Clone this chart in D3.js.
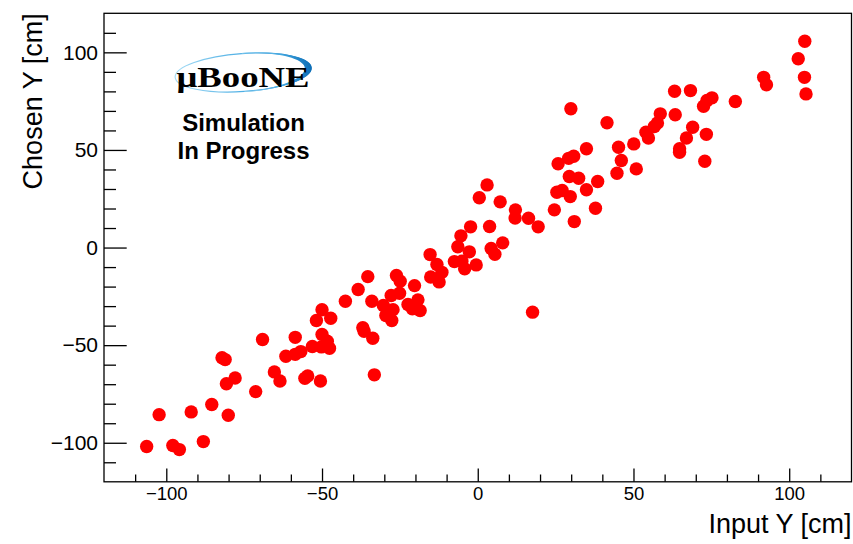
<!DOCTYPE html>
<html lang="en">
<head>
    <meta charset="UTF-8">
    <title>Chosen Y vs Input Y</title>
    <script src="https://cdn.jsdelivr.net/npm/d3@7"></script>
    <style>
        body { margin: 0; background: #fff; }
        text { font-family: "Liberation Sans", Arial, Helvetica, sans-serif; }
    </style>
</head>
<body>
<svg id="main" width="853" height="544"></svg>
<script>
    // values (cm)
    let inputY = [
        -106.3, -97.9, -95.8, -88.1, -102.3, -92.0, -85.4, -80.1, -82.1, -81.1,
        -77.9, -80.7, -71.3, -69.1, -65.3, -63.5, -61.6, -58.6, -58.6, -56.8,
        -55.5, -54.6, -50.5, -53.1, -50.0, -50.2, -48.3, -47.6, -51.8, -50.0,
        -47.2, -42.5, -38.4, -35.3, -36.9, -36.5, -33.7, -33.2, -34.0, -30.3,
        -29.5, -27.8, -27.2, -27.6, -26.1, -24.9, -25.1, -22.4, -20.6, -19.2,
        -18.5, -20.3, -21.0, -15.3, -13.1, -15.1, -12.4, -11.5, -7.5, -5.1,
        -4.2, -0.5, -6.4, -5.4, -2.7, -2.3, 0.5, 3.0, 3.8, 4.3,
        5.5, 7.2, 8.0, 12.1, 12.0, 16.3, 19.4, 25.4, 24.6, 17.6,
        29.9, 41.5, 34.9, 30.8, 29.2, 25.8, 29.4, 32.4, 38.5, 34.9,
        27.1, 29.7, 37.8, 31.0, 50.1, 45.2, 46.1, 44.7, 50.9, 54.0,
        54.8, 56.7, 57.7, 58.6, 63.4, 63.2, 68.3, 69.0, 67.0, 64.8,
        64.8, 73.4, 72.9, 72.5, 73.6, 75.2, 82.7, 91.8, 92.7, 105.0,
        102.9, 104.9, 105.4
    ];
    let chosenY = [
        -101.9, -101.4, -103.5, -99.4, -85.6, -84.2, -80.4, -85.9, -56.4, -57.4,
        -66.8, -69.8, -73.8, -47.1, -63.7, -68.4, -55.7, -46.0, -54.7, -53.3,
        -67.0, -65.8, -68.4, -50.7, -44.5, -50.9, -48.0, -51.6, -37.4, -31.9,
        -36.2, -27.5, -21.5, -14.9, -41.1, -42.9, -46.5, -65.2, -27.5, -29.7,
        -34.8, -24.6, -31.8, -37.4, -14.3, -17.3, -23.4, -29.2, -30.1, -26.8,
        -32.3, -19.5, -31.4, -3.6, -8.7, -15.1, -17.6, -12.7, -7.2, -7.0,
        -10.9, -8.9, 0.4, 6.0, -2.2, 10.6, 25.5, 32.1, 10.8, -0.5,
        -3.4, 23.4, 2.4, 19.3, 15.1, 15.0, 10.6, 28.3, 19.3, -33.1,
        71.1, 63.9, 50.6, 46.8, 45.7, 42.9, 36.4, 35.5, 33.8, 29.6,
        29.2, 26.1, 20.1, 13.3, 53.1, 51.4, 44.6, 38.1, 40.3, 59.1,
        56.1, 62.0, 63.8, 68.5, 68.0, 80.1, 80.4, 61.6, 56.1, 50.6,
        48.8, 58.0, 44.2, 72.4, 75.3, 76.7, 74.8, 87.2, 83.4, 105.7,
        96.7, 87.2, 78.7
    ];
    let majorTicks = [-100, -50, 0, 50, 100];
    let minorTicks = [-110, -90, -80, -70, -60, -40, -30, -20, -10, 10, 20, 30, 40, 60, 70, 80, 90, 110];

    let svg = d3.select('svg#main');
    let padLeft = 104, padRight = 851.5, padTop = 13.3, padBottom = 481.8;

    let x = d3.scaleLinear().domain([-120, 120]).range([padLeft, padRight]);
    let y = d3.scaleLinear().domain([-120, 120]).range([padBottom, padTop]);

    let data = inputY.map(function(d, i) { return {x: d, y: chosenY[i]}; });

    // points
    svg.append("g").selectAll("circle")
        .data(data)
        .enter().append("circle")
        .attr("cx", function(d) { return x(d.x); })
        .attr("cy", function(d) { return y(d.y); })
        .attr("r", 6.7)
        .attr("fill", "#ff0000");

    // frame
    svg.append("rect")
        .attr("x", padLeft).attr("y", padTop)
        .attr("width", padRight - padLeft).attr("height", padBottom - padTop)
        .attr("fill", "none")
        .attr("stroke", "#000")
        .attr("stroke-width", 1.3);

    function styleAxis(g, size) {
        g.select(".domain").remove();
        g.selectAll("line").attr("stroke", "#000").attr("stroke-width", 1.3);
        g.selectAll("text")
            .attr("fill", "#000")
            .style("font-family", '"Liberation Sans", Arial, sans-serif')
            .style("font-size", size + "px");
    }

    // x axis
    svg.append("g")
        .attr("transform", "translate(0," + padBottom + ")")
        .call(d3.axisBottom(x).tickValues(minorTicks).tickSize(-7.3).tickFormat(""))
        .call(function(g) { styleAxis(g, 18.5); });
    svg.append("g")
        .attr("transform", "translate(0," + padBottom + ")")
        .call(d3.axisBottom(x).tickValues(majorTicks).tickSize(-13.3).tickPadding(5).tickFormat(d3.format("d")))
        .call(function(g) { styleAxis(g, 18.5); });

    // y axis
    svg.append("g")
        .attr("transform", "translate(" + padLeft + ",0)")
        .call(d3.axisLeft(y).tickValues(minorTicks).tickSize(-12).tickFormat(""))
        .call(function(g) { styleAxis(g, 21); });
    svg.append("g")
        .attr("transform", "translate(" + padLeft + ",0)")
        .call(d3.axisLeft(y).tickValues(majorTicks).tickSize(-22.7).tickPadding(6).tickFormat(d3.format("d")))
        .call(function(g) { styleAxis(g, 21); });

    // axis titles
    svg.append("text")
        .attr("x", padRight).attr("y", 533)
        .attr("text-anchor", "end")
        .style("font-size", "27px")
        .text("Input Y [cm]");
    svg.append("text")
        .attr("transform", "translate(42," + padTop + ") rotate(-90)")
        .attr("text-anchor", "end")
        .style("font-size", "27px")
        .text("Chosen Y [cm]");

    // logo
    let defs = svg.append("defs");
    let grad = defs.append("linearGradient").attr("id", "swoosh")
        .attr("x1", "0%").attr("x2", "100%");
    grad.append("stop").attr("offset", "0%").attr("stop-color", "#a6dcf5");
    grad.append("stop").attr("offset", "55%").attr("stop-color", "#43a9e2");
    grad.append("stop").attr("offset", "100%").attr("stop-color", "#0b6db6");

    let logo = svg.append("g").attr("transform", "translate(243,72.5) rotate(-4)");
    logo.append("ellipse")
        .attr("rx", 68).attr("ry", 19)
        .attr("fill", "none")
        .attr("stroke", "url(#swoosh)")
        .attr("stroke-width", 1.2);
    // thicker crescent on the right side: band between two ellipses
    let outer = d3.range(-90, 91, 5).map(function(a) {
        let t = a * Math.PI / 180;
        return [69 * Math.cos(t), 19.6 * Math.sin(t)];
    });
    let inner = d3.range(90, -91, -5).map(function(a) {
        let t = a * Math.PI / 180;
        let w = Math.pow(Math.cos(t), 2);
        return [(68 - 6 * w) * Math.cos(t) - 0, (19 - 2.5 * w) * Math.sin(t)];
    });
    logo.append("path")
        .attr("d", d3.line()(outer.concat(inner)) + "Z")
        .attr("fill", "url(#swoosh)");

    svg.append("text")
        .attr("x", 243).attr("y", 86.5)
        .attr("text-anchor", "middle")
        .attr("textLength", 133)
        .attr("lengthAdjust", "spacingAndGlyphs")
        .style("font-family", '"Liberation Serif", "DejaVu Serif", serif')
        .style("font-weight", "bold")
        .style("font-size", "29px")
        .text("μBooNE");

    svg.append("text")
        .attr("x", 243.5).attr("y", 130.5)
        .attr("text-anchor", "middle")
        .style("font-weight", "bold")
        .style("font-size", "24px")
        .text("Simulation");
    svg.append("text")
        .attr("x", 243.5).attr("y", 158.5)
        .attr("text-anchor", "middle")
        .style("font-weight", "bold")
        .style("font-size", "24px")
        .text("In Progress");
</script>
</body>
</html>
